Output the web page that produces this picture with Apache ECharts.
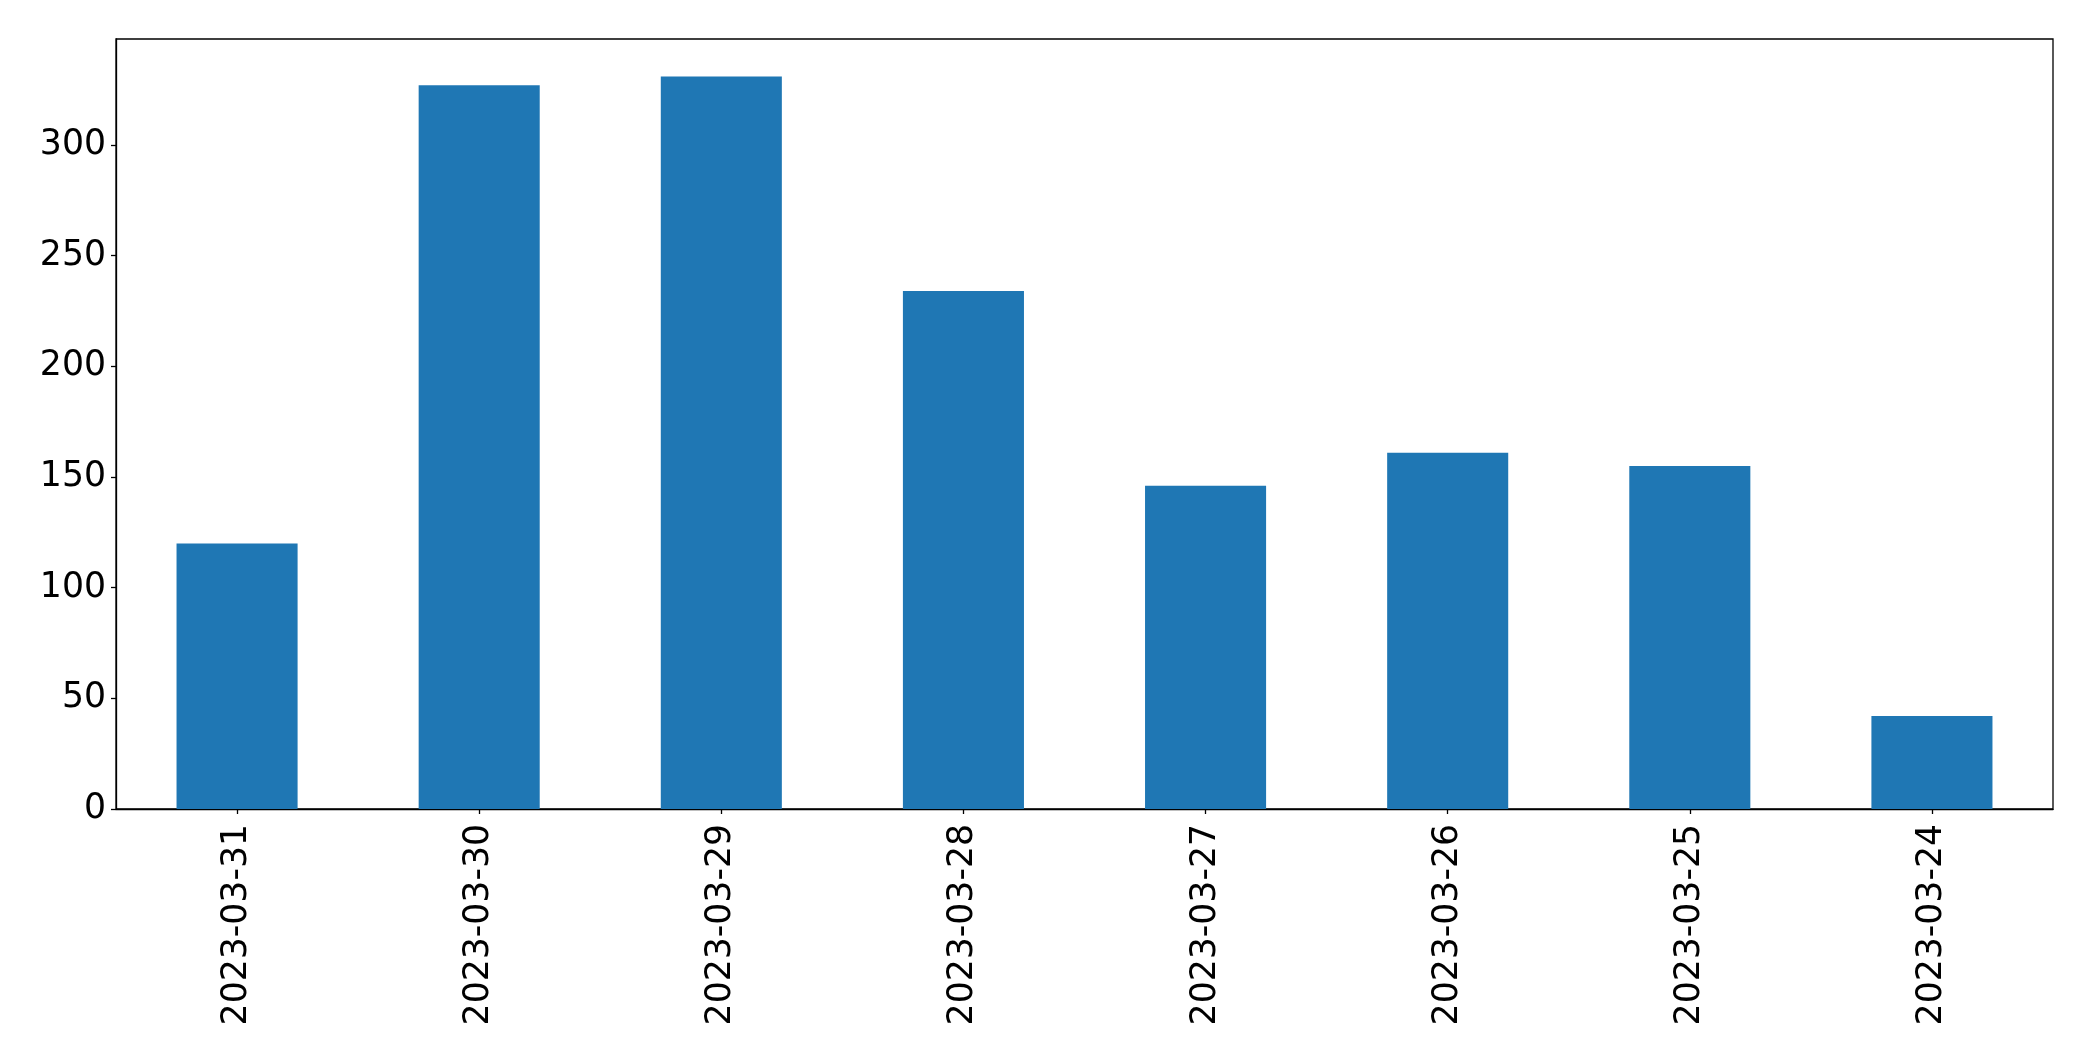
<!DOCTYPE html>
<html>
<head>
<meta charset="utf-8">
<script src="https://cdn.jsdelivr.net/npm/echarts@6/dist/echarts.min.js"></script>
<style>
html,body{margin:0;padding:0;background:#fff;}
#chart{width:2093px;height:1061px;}
</style>
</head>
<body>
<div id="chart"></div>
<script>
const categories = ['2023-03-31','2023-03-30','2023-03-29','2023-03-28','2023-03-27','2023-03-26','2023-03-25','2023-03-24'];
const values = [120, 327, 331, 234, 146, 161, 155, 42];
const yTicks = [0, 50, 100, 150, 200, 250, 300];
const yMax = 347.9;

const chart = echarts.init(document.getElementById('chart'), null, {renderer:'canvas'});
const font = 'DejaVu Sans';
chart.setOption({
  animation: false,
  backgroundColor: '#ffffff',
  grid: {left:116, top:39, width:1937, height:770, show:true, borderColor:'#000', borderWidth:1.3, backgroundColor:'transparent'},
  xAxis: {
    type:'category', data: categories,
    axisLine:{show:true, lineStyle:{color:'#000', width:1.3}},
    axisTick:{show:true, alignWithLabel:true, length:5, lineStyle:{color:'#000', width:1.3}},
    axisLabel:{rotate:90, color:'#000', fontFamily:font, fontSize:34.67, margin:15, interval:0},
    splitLine:{show:false}
  },
  yAxis: {
    type:'value', min:0, max:yMax,
    axisLine:{show:true, lineStyle:{color:'#000', width:1.3}},
    axisTick:{show:true, length:5, customValues: yTicks, lineStyle:{color:'#000', width:1.3}},
    axisLabel:{color:'#000', fontFamily:font, fontSize:34.67, margin:10, customValues: yTicks},
    splitLine:{show:false}
  },
  series: [{
    type:'bar', data: values, barWidth:'50%',
    itemStyle:{color:'#1f77b4'}
  }]
});
</script>
</body>
</html>
